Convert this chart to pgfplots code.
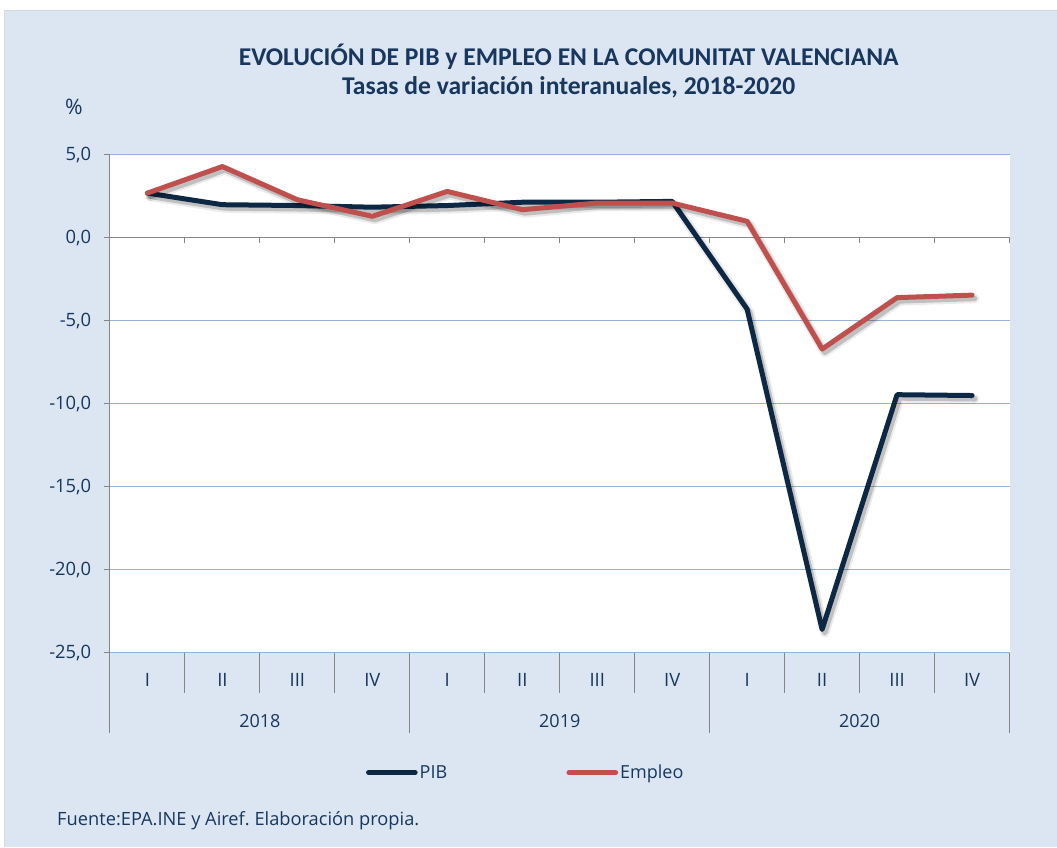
\documentclass[border=0pt]{standalone}
\usepackage{pgfplots}
\pgfplotsset{compat=1.18}
\usepackage{fontspec}
\setmainfont{Open Sans}
\newfontfamily\titlefont{Carlito}
\definecolor{bgblue}{RGB}{220,230,242}
\definecolor{gridblue}{RGB}{149,179,215}
\definecolor{axgray}{RGB}{134,134,134}
\definecolor{txt}{RGB}{23,55,94}
\definecolor{pib}{RGB}{12,40,68}
\definecolor{emp}{RGB}{192,80,77}
\frenchspacing
\begin{document}
\begin{tikzpicture}
\begin{scope}[x=0.75pt,y=-0.75pt]
\fill[white] (0,0) rectangle (1057,847);
\fill[bgblue] (4,10) rectangle (1057,847);
\draw[black!15, line width=0.75pt] (4.5,847) -- (4.5,10.5) -- (1057,10.5);
\node[font=\titlefont\bfseries\fontsize{19.2}{22}\selectfont, text=txt, anchor=base] at (569,66) {EVOLUCIÓN DE PIB y EMPLEO EN LA COMUNITAT VALENCIANA};
\node[font=\titlefont\bfseries\fontsize{19.2}{22}\selectfont, text=txt, anchor=base] at (569,95) {Tasas de variación interanuales, 2018-2020};
\node[font=\fontsize{16}{18}\selectfont, text=txt, anchor=base west, inner sep=0pt] at (65,115) {\%};
\node[font=\fontsize{13.7}{16}\selectfont, text=txt, anchor=base west, inner sep=0pt] at (57,826) {Fuente:EPA.INE y Airef. Elaboración propia.};
\end{scope}
\begin{axis}[
 at={(82.5pt,-489.75pt)}, anchor=south west,
 scale only axis, width=675pt, height=373.5pt,
 xmin=0.5, xmax=12.5, ymin=-25, ymax=5,
 clip=false,
 axis background/.style={fill=white},
 axis line style={draw=none},
 ytick={-25,-20,-15,-10,-5,0,5},
 yticklabels={{-25,0},{-20,0},{-15,0},{-10,0},{-5,0},{0,0},{5,0}},
 ytick pos=left, tick align=outside, major tick length=4.5pt,
 ytick style={draw=axgray, line width=0.75pt},
 ymajorgrids, grid style={draw=gridblue, line width=0.75pt},
 xtick={1,...,12},
 xticklabels={I,II,III,IV,I,II,III,IV,I,II,III,IV},
 xtick style={draw=none},
 ticklabel style={font=\fontsize{13.8}{16}\selectfont, text=txt},
 yticklabel style={xshift=-6pt},
 xticklabel style={anchor=center, yshift=-15.75pt},
 legend style={at={(0.2844,-0.241)}, anchor=west, draw=none, fill=none, inner sep=0pt,
   font=\fontsize{13.5}{16}\selectfont, text=txt, nodes={inner sep=1.5pt},
   /tikz/every even column/.append style={column sep=88pt}},
 legend columns=2,
 legend image code/.code={\draw[#1,line width=3.75pt,line cap=round] (0pt,0pt) -- (35pt,0pt);},
]
\draw[axgray, line width=0.75pt] (axis cs:0.5,0) -- (axis cs:12.5,0);
\pgfplotsinvokeforeach{1.5,2.5,3.5,4.5,5.5,6.5,7.5,8.5,9.5,10.5,11.5,12.5}{
  \draw[axgray, line width=0.75pt] (axis cs:#1,0) -- ([yshift=-3.75pt]axis cs:#1,0);}
\draw[axgray, line width=0.75pt] (axis cs:0.5,5) -- ([yshift=-60pt]axis cs:0.5,-25);
\pgfplotsinvokeforeach{1.5,2.5,3.5,5.5,6.5,7.5,9.5,10.5,11.5}{
  \draw[axgray, line width=0.75pt] (axis cs:#1,-25) -- ([yshift=-30pt]axis cs:#1,-25);}
\pgfplotsinvokeforeach{4.5,8.5,12.5}{
  \draw[axgray, line width=0.75pt] (axis cs:#1,-25) -- ([yshift=-60pt]axis cs:#1,-25);}
\node[font=\fontsize{13.5}{16}\selectfont, text=txt] at ([yshift=-51pt]axis cs:2.5,-25) {2018};
\node[font=\fontsize{13.5}{16}\selectfont, text=txt] at ([yshift=-51pt]axis cs:6.5,-25) {2019};
\node[font=\fontsize{13.5}{16}\selectfont, text=txt] at ([yshift=-51pt]axis cs:10.5,-25) {2020};
% PIB shadow
\addplot[forget plot, draw=black, draw opacity=0.08, line width=7pt, line join=round, line cap=round, transform canvas={xshift=2pt,yshift=-2.5pt}] coordinates {
(1,2.7)(2,2.0)(3,1.95)(4,1.85)(5,1.95)(6,2.15)(7,2.15)(8,2.2)(9,-4.3)(10,-23.6)(11,-9.45)(12,-9.5)};
\addplot[forget plot, draw=black, draw opacity=0.18, line width=4pt, line join=round, line cap=round, transform canvas={xshift=2pt,yshift=-2.5pt}] coordinates {
(1,2.7)(2,2.0)(3,1.95)(4,1.85)(5,1.95)(6,2.15)(7,2.15)(8,2.2)(9,-4.3)(10,-23.6)(11,-9.45)(12,-9.5)};
\addplot[draw=pib, line width=3.75pt, line join=round, line cap=round] coordinates {
(1,2.7)(2,2.0)(3,1.95)(4,1.85)(5,1.95)(6,2.15)(7,2.15)(8,2.2)(9,-4.3)(10,-23.6)(11,-9.45)(12,-9.5)};
% Empleo shadow
\addplot[forget plot, draw=black, draw opacity=0.08, line width=7pt, line join=round, line cap=round, transform canvas={xshift=2pt,yshift=-2.5pt}] coordinates {
(1,2.7)(2,4.3)(3,2.3)(4,1.3)(5,2.8)(6,1.7)(7,2.1)(8,2.1)(9,1.0)(10,-6.7)(11,-3.6)(12,-3.45)};
\addplot[forget plot, draw=black, draw opacity=0.18, line width=4pt, line join=round, line cap=round, transform canvas={xshift=2pt,yshift=-2.5pt}] coordinates {
(1,2.7)(2,4.3)(3,2.3)(4,1.3)(5,2.8)(6,1.7)(7,2.1)(8,2.1)(9,1.0)(10,-6.7)(11,-3.6)(12,-3.45)};
\addplot[draw=emp, line width=3.75pt, line join=round, line cap=round] coordinates {
(1,2.7)(2,4.3)(3,2.3)(4,1.3)(5,2.8)(6,1.7)(7,2.1)(8,2.1)(9,1.0)(10,-6.7)(11,-3.6)(12,-3.45)};
\legend{PIB,Empleo}
\end{axis}
\end{tikzpicture}
\end{document}
